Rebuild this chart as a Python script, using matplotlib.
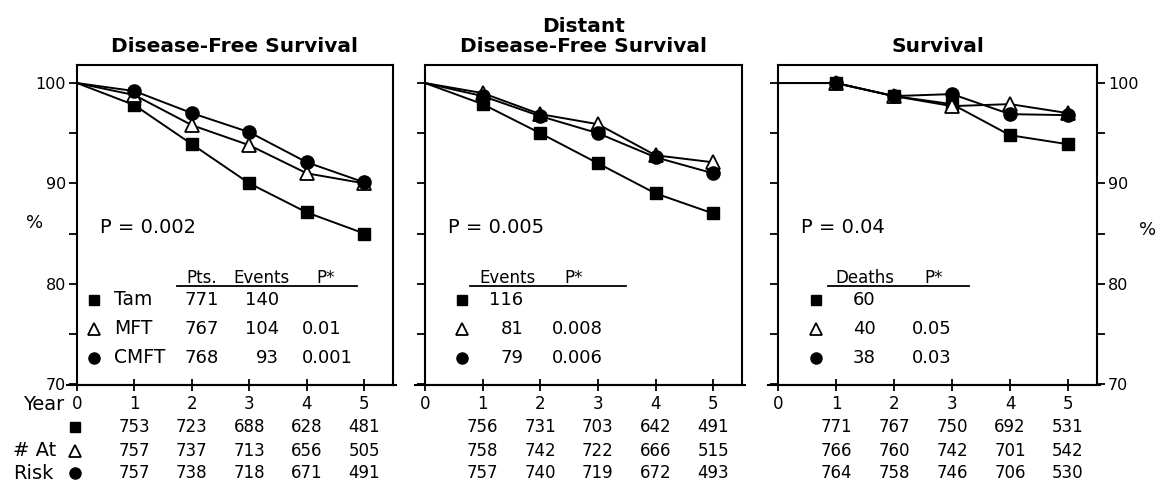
import numpy as np
import matplotlib.pyplot as plt

# survival curves (%), years 0..5
years = [0, 1, 2, 3, 4, 5]

dfs_tam = [100, 97.8, 93.9, 90.0, 87.1, 85.0]
dfs_mft = [100, 98.8, 95.8, 93.8, 91.0, 90.0]
dfs_cmft = [100, 99.2, 97.0, 95.1, 92.1, 90.1]

ddfs_tam = [100, 97.9, 95.0, 92.0, 89.0, 87.0]
ddfs_mft = [100, 99.0, 96.9, 95.9, 92.8, 92.1]
ddfs_cmft = [100, 98.7, 96.7, 95.0, 92.6, 91.0]

os_tam = [100, 100, 98.7, 97.9, 94.8, 93.9]
os_mft = [100, 100, 98.7, 97.7, 97.9, 97.0]
os_cmft = [100, 100, 98.7, 98.9, 96.9, 96.8]

titles = ["Disease-Free Survival", "Distant\nDisease-Free Survival", "Survival"]
p_overall = ["P = 0.002", "P = 0.005", "P = 0.04"]

groups = ["Tam", "MFT", "CMFT"]
pts = ["771", "767", "768"]
dfs_events = ["140", "104", "93"]
dfs_p = ["", "0.01", "0.001"]
ddfs_events = ["116", "81", "79"]
ddfs_p = ["", "0.008", "0.006"]
os_deaths = ["60", "40", "38"]
os_p = ["", "0.05", "0.03"]

# number at risk, years 1..5
risk_dfs = [[753, 723, 688, 628, 481],
            [757, 737, 713, 656, 505],
            [757, 738, 718, 671, 491]]
risk_ddfs = [[756, 731, 703, 642, 491],
             [758, 742, 722, 666, 515],
             [757, 740, 719, 672, 493]]
risk_os = [[771, 767, 750, 692, 531],
           [766, 760, 742, 701, 542],
           [764, 758, 746, 706, 530]]

styles = [dict(marker='s', mfc='black', mec='black', ms=9),
          dict(marker='^', mfc='white', mec='black', ms=10, mew=1.3),
          dict(marker='o', mfc='black', mec='black', ms=9.5)]
draw_order = [0, 2, 1]  # triangles end up on top of circles

W, H = 1157, 490
fig = plt.figure(figsize=(W / 100, H / 100), dpi=100)
plt.rcParams['font.family'] = 'DejaVu Sans'

def box(l, r):
    return [l / W, 1 - 385 / H, (r - l) / W, 320 / H]

ax1 = fig.add_axes(box(77, 393))
ax2 = fig.add_axes(box(425, 742))
ax3 = fig.add_axes(box(778, 1097))
axes = [ax1, ax2, ax3]

curves = [[dfs_tam, dfs_mft, dfs_cmft],
          [ddfs_tam, ddfs_mft, ddfs_cmft],
          [os_tam, os_mft, os_cmft]]
risks = [risk_dfs, risk_ddfs, risk_os]
ylo, yhi = 69.9, 101.8

for i, ax in enumerate(axes):
    for g in draw_order:
        # no marker at year 0
        ax.plot(years, curves[i][g], color='black', lw=1.4, zorder=3 + g,
                clip_on=False, markevery=[1, 2, 3, 4, 5], **styles[g])
    ax.set_xlim(0, 5.5)
    ax.set_ylim(ylo, yhi)
    ax.set_xticks(years)
    ax.set_yticks([70, 80, 90, 100])
    ax.set_yticks([75, 85, 95], minor=True)
    for s in ax.spines.values():
        s.set_linewidth(1.5)
    ax.tick_params(axis='x', direction='inout', length=8, width=1.3,
                   labelsize=12, pad=3)
    ax.tick_params(axis='y', which='both', direction='out', length=6,
                   width=1.3, labelsize=11.5, pad=2)
    ax.set_title(titles[i], fontsize=14.5, fontweight='bold', pad=9,
                 linespacing=1.1)
    # extend the base line slightly beyond the frame
    ax.plot([-0.17, 5.55], [ylo, ylo], color='black', lw=1.5, clip_on=False)
    ax.text(0.4, 85.6, p_overall[i], fontsize=14, va='center')
    # number at risk rows
    for r, yrow in enumerate([-0.131, -0.206, -0.275]):
        for k in range(5):
            ax.text(years[k + 1], yrow, str(risks[i][r][k]), fontsize=12,
                    ha='center', va='center',
                    transform=ax.get_xaxis_transform())

ax2.tick_params(axis='y', labelleft=False)
ax3.tick_params(axis='y', which='both', left=True, right=True,
                labelleft=False, labelright=True)

# legend tables inside the panels
row_y = [78.4, 75.5, 72.6]
hdr_y, line_y = 80.6, 79.8

# panel 1
ax1.text(1.91, hdr_y, "Pts.", fontsize=12, va='center')
ax1.text(2.73, hdr_y, "Events", fontsize=12, va='center')
ax1.text(4.17, hdr_y, "P*", fontsize=12, va='center')
ax1.plot([1.74, 4.87], [line_y, line_y], color='black', lw=1.3)
for g in range(3):
    st = dict(styles[g])
    st['ms'] = st['ms'] - 1.5
    ax1.plot([0.3], [row_y[g]], ls='none', **st)
    ax1.text(0.64, row_y[g], groups[g], fontsize=13.5, va='center')
    ax1.text(2.47, row_y[g], pts[g], fontsize=13, va='center', ha='right')
    ax1.text(3.51, row_y[g], dfs_events[g], fontsize=13, va='center', ha='right')
    ax1.text(3.91, row_y[g], dfs_p[g], fontsize=13, va='center')

# panel 2
ax2.text(0.95, hdr_y, "Events", fontsize=12, va='center')
ax2.text(2.42, hdr_y, "P*", fontsize=12, va='center')
ax2.plot([0.78, 3.49], [line_y, line_y], color='black', lw=1.3)
for g in range(3):
    st = dict(styles[g])
    st['ms'] = st['ms'] - 1.5
    ax2.plot([0.64], [row_y[g]], ls='none', **st)
    ax2.text(1.71, row_y[g], ddfs_events[g], fontsize=13, va='center', ha='right')
    ax2.text(2.2, row_y[g], ddfs_p[g], fontsize=13, va='center')

# panel 3
ax3.text(0.99, hdr_y, "Deaths", fontsize=12, va='center')
ax3.text(2.53, hdr_y, "P*", fontsize=12, va='center')
ax3.plot([0.86, 3.29], [line_y, line_y], color='black', lw=1.3)
for g in range(3):
    st = dict(styles[g])
    st['ms'] = st['ms'] - 1.5
    ax3.plot([0.65], [row_y[g]], ls='none', **st)
    ax3.text(1.68, row_y[g], os_deaths[g], fontsize=13, va='center', ha='right')
    ax3.text(2.31, row_y[g], os_p[g], fontsize=13, va='center')

# axis side labels
ax1.text(-0.133, 86, "%", fontsize=13, ha='center', va='center',
         transform=ax1.get_yaxis_transform())
ax3.text(1.16, 85.4, "%", fontsize=13, ha='center', va='center',
         transform=ax3.get_yaxis_transform())
ax1.text(-0.22, -0.06, "Year", fontsize=14, ha='right', va='center',
         transform=ax1.get_xaxis_transform())
ax1.text(-1.12, -0.206, "# At", fontsize=14, ha='left', va='center',
         transform=ax1.get_xaxis_transform())
ax1.text(-1.12, -0.275, "Risk", fontsize=14, ha='left', va='center',
         transform=ax1.get_xaxis_transform())
for g, yrow in enumerate([-0.131, -0.206, -0.275]):
    st = dict(styles[g])
    st['ms'] = st['ms'] - 1.5
    ax1.plot([-0.03], [yrow], ls='none', clip_on=False,
             transform=ax1.get_xaxis_transform(), **st)

fig.savefig("out.png", dpi=100)
